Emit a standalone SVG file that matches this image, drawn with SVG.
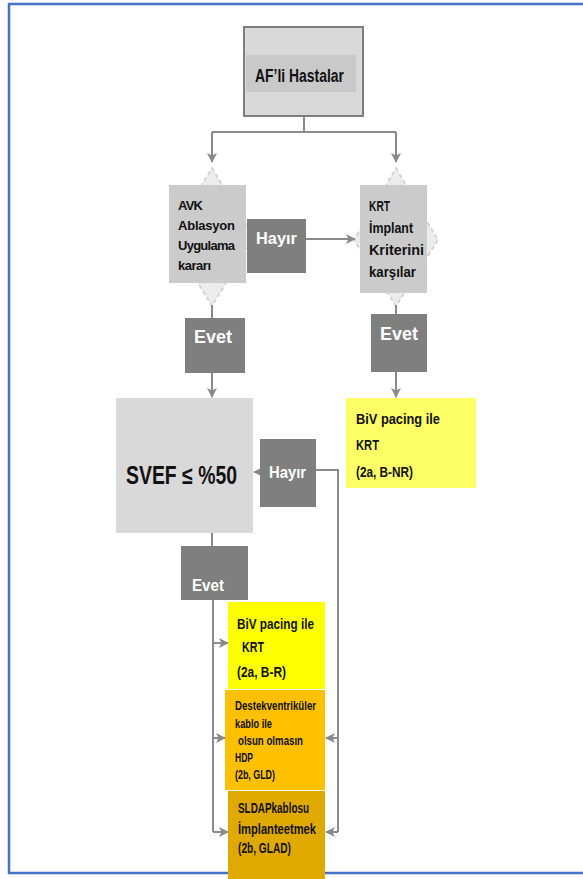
<svg xmlns="http://www.w3.org/2000/svg" width="583" height="879" viewBox="0 0 583 879">
<defs>
<style>
.frame{fill:#ffffff;stroke:#4472c4;stroke-width:2.5}
.ln{fill:none;stroke:#8a8a8a;stroke-width:2}
.dia{fill:#ececec;stroke:#cccccc;stroke-width:1.5;stroke-dasharray:4 3}
.lg{fill:#d9d9d9}
.mg{fill:#cbcbcb}
.dk{fill:#7f7f7f}
.t{font-family:"Liberation Sans",Arial,sans-serif;font-weight:bold}
.w{fill:#ffffff}
.c{font-family:"Liberation Sans",Arial,sans-serif;font-weight:bold;fill:#111111}
</style>
<marker id="ah" viewBox="0 0 10 10" refX="9" refY="5" markerWidth="5" markerHeight="5" orient="auto" markerUnits="strokeWidth">
<path d="M0,0 L10,5 L0,10 L2.5,5 Z" fill="#8a8a8a"/>
</marker>
</defs>
<rect class="frame" x="9" y="4" width="600" height="869"/>
<g id="diamonds">
<polygon class="dia" points="212,168 254,237 212,306 170,237"/>
<polygon class="dia" points="396,168 438,240 396,306 354,240"/>
</g>
<g id="connectors">
<path class="ln" d="M304,116 V132 M212,132 H396"/>
<path class="ln" d="M212,132 V162" marker-end="url(#ah)"/>
<path class="ln" d="M396,132 V162" marker-end="url(#ah)"/>
<path class="ln" d="M212,305 V318"/>
<path class="ln" d="M212,373 V397" marker-end="url(#ah)"/>
<path class="ln" d="M396,305 V314"/>
<path class="ln" d="M396,372 V397" marker-end="url(#ah)"/>
<path class="ln" d="M306,239 H355" marker-end="url(#ah)"/>
<path class="ln" d="M260,472 H254" marker-end="url(#ah)"/>
<path class="ln" d="M316,470 H338 V832"/>
<path class="ln" d="M338,738 H326" marker-end="url(#ah)"/>
<path class="ln" d="M338,832 H326" marker-end="url(#ah)"/>
<path class="ln" d="M212,533 V546"/>
<path class="ln" d="M213,600 V832"/>
<path class="ln" d="M213,643 H228" marker-end="url(#ah)"/>
<path class="ln" d="M213,738 H225" marker-end="url(#ah)"/>
<path class="ln" d="M213,832 H228" marker-end="url(#ah)"/>
</g>
<g id="af">
<rect x="244" y="27" width="119" height="89" fill="#d9d9d9" stroke="#7f7f7f" stroke-width="2"/>
<rect x="246" y="55" width="110" height="37" fill="#c9c9c9"/>
<text class="t" x="255" y="82" font-size="18" fill="#111111" textLength="89" lengthAdjust="spacingAndGlyphs">AF’li Hastalar</text>
</g>
<g id="avk">
<rect class="mg" x="169" y="185" width="77" height="98"/>
<text class="c" font-size="13" lengthAdjust="spacingAndGlyphs"><tspan x="178" y="210" textLength="25">AVK</tspan><tspan x="178" y="230" textLength="57">Ablasyon</tspan><tspan x="178" y="250" textLength="57">Uygulama</tspan><tspan x="178" y="270" textLength="33">kararı</tspan></text>
</g>
<g id="hayir1">
<rect class="dk" x="247" y="219" width="59" height="54"/>
<text class="t w" x="256" y="244" font-size="17" textLength="41" lengthAdjust="spacingAndGlyphs">Hayır</text>
</g>
<g id="krt">
<rect class="mg" x="360" y="185" width="67" height="108"/>
<text class="c" font-size="14"><tspan x="369" y="211" textLength="21" lengthAdjust="spacingAndGlyphs">KRT</tspan><tspan x="369" y="233" textLength="44" lengthAdjust="spacingAndGlyphs">İmplant</tspan><tspan x="369" y="255" textLength="55" lengthAdjust="spacingAndGlyphs">Kriterini</tspan><tspan x="369" y="277" textLength="47" lengthAdjust="spacingAndGlyphs">karşılar</tspan></text>
</g>
<g id="evet1">
<rect class="dk" x="185" y="318" width="60" height="55"/>
<text class="t w" x="194" y="343" font-size="18" textLength="38" lengthAdjust="spacingAndGlyphs">Evet</text>
</g>
<g id="evet2">
<rect class="dk" x="371" y="314" width="56" height="58"/>
<text class="t w" x="380" y="340" font-size="18" textLength="38" lengthAdjust="spacingAndGlyphs">Evet</text>
</g>
<g id="biv1">
<rect x="346" y="398" width="130" height="90" fill="#ffff66"/>
<text class="c" font-size="15"><tspan x="356" y="424" textLength="84" lengthAdjust="spacingAndGlyphs">BiV pacing ile</tspan><tspan x="356" y="450" textLength="23" lengthAdjust="spacingAndGlyphs">KRT</tspan><tspan x="356" y="477" font-size="14" textLength="57" lengthAdjust="spacingAndGlyphs">(2a, B-NR)</tspan></text>
</g>
<g id="svef">
<rect class="lg" x="116" y="398" width="137" height="135"/>
<text class="t" x="126" y="484" font-size="25" fill="#111111" textLength="111" lengthAdjust="spacingAndGlyphs">SVEF ≤ %50</text>
</g>
<g id="hayir2">
<rect class="dk" x="260" y="439" width="56" height="68"/>
<text class="t w" x="269" y="478" font-size="16" textLength="37" lengthAdjust="spacingAndGlyphs">Hayır</text>
</g>
<g id="evet3">
<rect class="dk" x="181" y="546" width="67" height="54"/>
<text class="t w" x="192" y="591" font-size="17" textLength="32" lengthAdjust="spacingAndGlyphs">Evet</text>
</g>
<g id="biv2">
<rect x="228" y="602" width="97" height="87" fill="#ffff00"/>
<text class="c" font-size="15"><tspan x="237" y="629" textLength="77" lengthAdjust="spacingAndGlyphs">BiV pacing ile</tspan><tspan x="242" y="652" textLength="22" lengthAdjust="spacingAndGlyphs">KRT</tspan><tspan x="237" y="677" textLength="49" lengthAdjust="spacingAndGlyphs">(2a, B-R)</tspan></text>
</g>
<g id="hdp">
<rect x="225" y="690" width="100" height="100" fill="#ffc000"/>
<text class="c" font-size="12"><tspan x="235" y="710" textLength="81" lengthAdjust="spacingAndGlyphs">Destekventriküler</tspan><tspan x="235" y="728" textLength="37" lengthAdjust="spacingAndGlyphs">kablo ile</tspan><tspan x="238" y="745" textLength="65" lengthAdjust="spacingAndGlyphs">olsun olmasın</tspan><tspan x="235" y="762" textLength="18" lengthAdjust="spacingAndGlyphs">HDP</tspan><tspan x="235" y="779" textLength="40" lengthAdjust="spacingAndGlyphs">(2b, GLD)</tspan></text>
</g>
<g id="sldap">
<rect x="228" y="791" width="97" height="88" fill="#e0a900"/>
<text class="c" font-size="14"><tspan x="238" y="813" textLength="71" lengthAdjust="spacingAndGlyphs">SLDAPkablosu</tspan><tspan x="238" y="834" textLength="78" lengthAdjust="spacingAndGlyphs">İmplanteetmek</tspan><tspan x="238" y="853" textLength="53" lengthAdjust="spacingAndGlyphs">(2b, GLAD)</tspan></text>
</g>
</svg>
